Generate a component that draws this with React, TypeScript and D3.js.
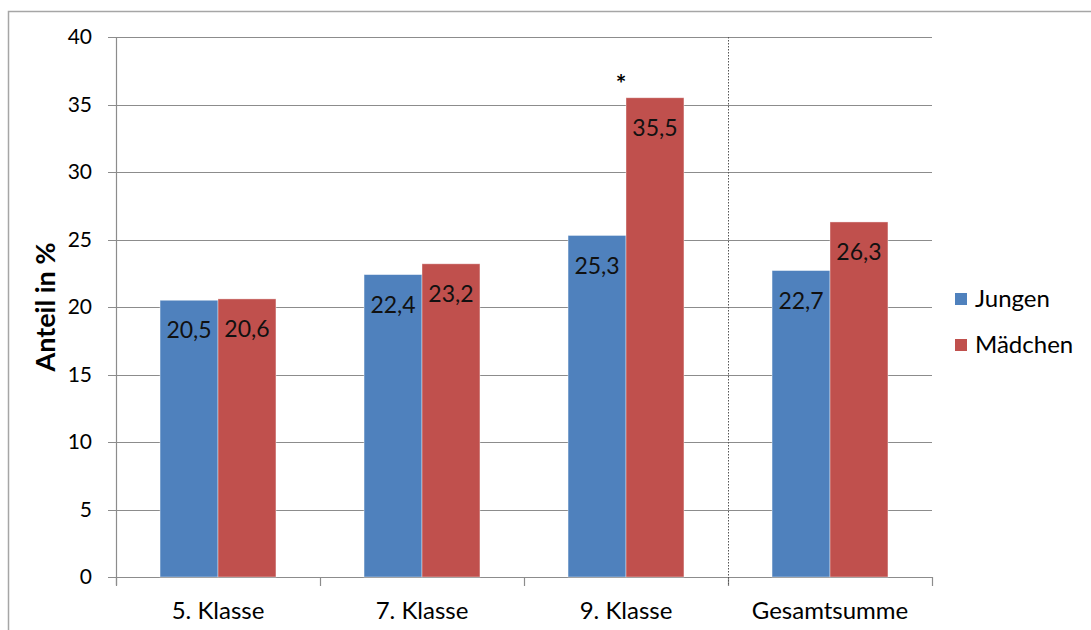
import * as d3 from 'd3';
import React, { useEffect, useRef } from 'react';

const categories = ['5. Klasse', '7. Klasse', '9. Klasse', 'Gesamtsumme'];
const seriesNames = ['Jungen', 'Mädchen'];
const jungen = [20.5, 22.4, 25.3, 22.7];
const maedchen = [20.6, 23.2, 35.5, 26.3];
const yTicks = [0, 5, 10, 15, 20, 25, 30, 35, 40];
const colors = ['#4F81BD', '#C0504D'];
// marked as significant in the original
const starred = { category: '9. Klasse', series: 'Mädchen' };

const FONT = 'Lato, "Open Sans", sans-serif';

const App: React.FC = () => {
    const svgRef = useRef<SVGSVGElement | null>(null);

    useEffect(() => {
        const width = 1091;
        const height = 630;
        const margin = { top: 37, right: 159, bottom: 53, left: 116 };

        d3.select(svgRef.current).selectAll('*').remove();

        const svg = d3
            .select(svgRef.current)
            .attr('width', width)
            .attr('height', height)
            .style('font-family', FONT);

        svg.append('rect').attr('width', width).attr('height', height).attr('fill', '#fff');

        // outer frame (cut off at right and bottom)
        svg.append('rect')
            .attr('x', 8.5)
            .attr('y', 11.5)
            .attr('width', width + 10)
            .attr('height', height + 10)
            .attr('fill', 'none')
            .attr('stroke', '#a6a6a6')
            .attr('stroke-width', 1.5);

        const x = d3
            .scaleBand()
            .domain(categories)
            .range([margin.left, width - margin.right])
            .paddingInner(0)
            .paddingOuter(0);

        const x1 = d3
            .scaleBand()
            .domain(seriesNames)
            .range([0, x.bandwidth()])
            .paddingInner(0)
            .paddingOuter(0.76);

        const y = d3
            .scaleLinear()
            .domain([0, 40])
            .range([height - margin.bottom, margin.top]);

        // gridlines + y ticks
        const grid = svg.append('g');
        grid.selectAll('line')
            .data(yTicks)
            .enter()
            .append('line')
            .attr('x1', margin.left - 8)
            .attr('x2', width - margin.right)
            .attr('y1', d => Math.round(y(d)) + 0.5)
            .attr('y2', d => Math.round(y(d)) + 0.5)
            .attr('stroke', '#8c8c8c')
            .attr('stroke-width', 1.2);

        svg.append('g')
            .selectAll('text')
            .data(yTicks)
            .enter()
            .append('text')
            .attr('x', margin.left - 24)
            .attr('y', d => y(d))
            .attr('dy', '0.35em')
            .attr('text-anchor', 'end')
            .attr('font-size', 21)
            .attr('fill', '#000')
            .text(d => d);

        // y axis line
        svg.append('line')
            .attr('x1', margin.left + 0.5)
            .attr('x2', margin.left + 0.5)
            .attr('y1', y(40))
            .attr('y2', y(0) + 8)
            .attr('stroke', '#8c8c8c')
            .attr('stroke-width', 1.2);

        // x tick marks at band boundaries
        const boundaries = categories.map(c => x(c)!).concat([x(categories[categories.length - 1])! + x.bandwidth()]);
        svg.append('g')
            .selectAll('line')
            .data(boundaries)
            .enter()
            .append('line')
            .attr('x1', d => Math.round(d) + 0.5)
            .attr('x2', d => Math.round(d) + 0.5)
            .attr('y1', y(0))
            .attr('y2', y(0) + 9)
            .attr('stroke', '#8c8c8c')
            .attr('stroke-width', 1.2);

        // dotted separator before Gesamtsumme
        const sepX = Math.round(x('Gesamtsumme')!) + 0.5;
        svg.append('line')
            .attr('x1', sepX)
            .attr('x2', sepX)
            .attr('y1', y(40))
            .attr('y2', y(0) + 9)
            .attr('stroke', '#555')
            .attr('stroke-width', 1)
            .attr('stroke-dasharray', '1.5,1.5');

        // bars
        const rows = categories.map((c, i) => ({ category: c, values: [jungen[i], maedchen[i]] }));
        const groups = svg.selectAll('.group')
            .data(rows)
            .enter()
            .append('g')
            .attr('class', 'group')
            .attr('transform', d => `translate(${x(d.category)},0)`);

        groups.selectAll('rect')
            .data(d => d.values.map((v, i) => ({ key: seriesNames[i], value: v, i })))
            .enter()
            .append('rect')
            .attr('x', d => x1(d.key)!)
            .attr('y', d => y(d.value))
            .attr('width', x1.bandwidth())
            .attr('height', d => y(0) - y(d.value))
            .attr('fill', d => colors[d.i])
            .attr('stroke', '#fff')
            .attr('stroke-opacity', 0.5)
            .attr('stroke-width', 0.8);

        groups.selectAll('text')
            .data(d => d.values.map((v, i) => ({ key: seriesNames[i], value: v })))
            .enter()
            .append('text')
            .attr('x', d => x1(d.key)! + x1.bandwidth() / 2)
            .attr('y', d => y(d.value) + 30)
            .attr('dy', '0.35em')
            .attr('text-anchor', 'middle')
            .attr('font-size', 23)
            .attr('fill', '#111')
            .text(d => d.value.toFixed(1).replace('.', ','));

        // significance star
        const starVal = maedchen[categories.indexOf(starred.category)];
        svg.append('text')
            .attr('x', x(starred.category)! + x1(starred.series)! - 5)
            .attr('y', y(starVal) - 5)
            .attr('text-anchor', 'middle')
            .attr('font-size', 25)
            .attr('font-weight', 'bold')
            .attr('fill', '#000')
            .text('*');

        // x labels
        svg.append('g')
            .selectAll('text')
            .data(categories)
            .enter()
            .append('text')
            .attr('x', d => x(d)! + x.bandwidth() / 2)
            .attr('y', y(0) + 34)
            .attr('dy', '0.35em')
            .attr('text-anchor', 'middle')
            .attr('font-size', 24)
            .attr('fill', '#000')
            .text(d => d);

        // y axis title
        svg.append('text')
            .attr('transform', `translate(46,${(y(0) + y(40)) / 2}) rotate(-90)`)
            .attr('text-anchor', 'middle')
            .attr('dy', '0.35em')
            .attr('font-size', 27)
            .attr('font-weight', 'bold')
            .attr('fill', '#000')
            .text('Anteil in %');

        // legend
        const legend = svg.append('g').attr('transform', `translate(955,299)`);
        seriesNames.forEach((name, i) => {
            const g = legend.append('g').attr('transform', `translate(0,${i * 46})`);
            g.append('rect')
                .attr('x', 0)
                .attr('y', -6)
                .attr('width', 12)
                .attr('height', 12)
                .attr('fill', colors[i]);
            g.append('text')
                .attr('x', 20)
                .attr('y', 0)
                .attr('dy', '0.35em')
                .attr('font-size', 24)
                .attr('fill', '#000')
                .text(name);
        });
    }, []);

    return <svg ref={svgRef} style={{ position: 'absolute', left: 0, top: 0 }}></svg>;
};

export default App;
